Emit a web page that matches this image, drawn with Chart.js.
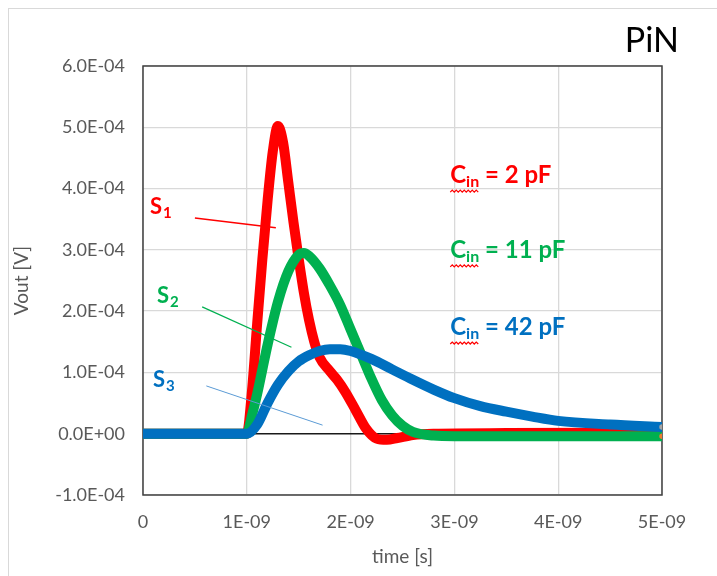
<!DOCTYPE html>
<html>
<head>
<meta charset="utf-8">
<script src="https://cdn.jsdelivr.net/npm/chart.js@4.4.1/dist/chart.umd.min.js"></script>
<style>
  html, body { margin: 0; padding: 0; background: #fff; }
  #wrap { position: relative; width: 717px; height: 576px; }
  #frame {
    position: absolute; left: 8px; top: 8px; right: 0; bottom: 0;
    border-top: 1px solid #d9d9d9; border-left: 1px solid #d9d9d9;
  }
  canvas { position: absolute; left: 0; top: 0; }
</style>
</head>
<body>
<div id="wrap">
  <div id="frame"></div>
  <canvas id="pinChart" width="717" height="576"></canvas>
</div>
<script>
// time in ns, Vout in units of 1e-4 V
const tS1 = [0, 0.9, 1.0, 1.05, 1.1, 1.15, 1.2, 1.25, 1.3, 1.35, 1.4, 1.45, 1.5, 1.55, 1.6, 1.65, 1.7, 1.8, 1.87, 1.95, 2.05, 2.15, 2.25, 2.35, 2.45, 2.6, 2.8, 3.5, 5.0];
const vS1 = [0, 0, 0, 0.7, 1.8, 2.85, 3.8, 4.6, 5.02, 4.75, 4.1, 3.45, 2.85, 2.3, 1.85, 1.5, 1.25, 1.02, 0.88, 0.68, 0.38, 0.08, -0.08, -0.1, -0.07, -0.02, 0, 0.01, 0.02];

const tS2 = [0, 0.9, 1.0, 1.05, 1.1, 1.15, 1.2, 1.3, 1.4, 1.5, 1.55, 1.6, 1.7, 1.8, 1.9, 2.0, 2.1, 2.2, 2.3, 2.4, 2.5, 2.6, 2.8, 3.0, 4.0, 5.0];
const vS2 = [0, 0, 0, 0.3, 0.65, 1.05, 1.45, 2.15, 2.65, 2.92, 2.95, 2.9, 2.7, 2.42, 2.1, 1.7, 1.3, 0.9, 0.55, 0.3, 0.13, 0.03, -0.03, -0.04, -0.04, -0.04];

const tS3 = [0, 0.9, 1.0, 1.1, 1.2, 1.3, 1.4, 1.5, 1.6, 1.7, 1.8, 1.9, 2.0, 2.2, 2.4, 2.6, 2.8, 3.0, 3.25, 3.5, 3.75, 4.0, 4.5, 5.0];
const vS3 = [0, 0, 0, 0.15, 0.5, 0.8, 1.02, 1.18, 1.28, 1.35, 1.38, 1.38, 1.35, 1.22, 1.05, 0.88, 0.72, 0.58, 0.45, 0.36, 0.28, 0.21, 0.15, 0.11];

const xTicks = [0, 1, 2, 3, 4, 5];
const yTicks = [-1, 0, 1, 2, 3, 4, 5, 6];

const RED = '#ff0000';
const GREEN = '#00b050';
const BLUE = '#0070c0';
const FONT = 'Lato, "Open Sans", sans-serif';

const toPoints = (ts, vs) => ts.map((t, i) => ({ x: t, y: vs[i] }));

function yLabel(v) {
    if (v === 0) return '0.0E+00';
    return (v < 0 ? '-' : '') + Math.abs(v).toFixed(1) + 'E-04';
}

function xLabel(v) {
    return v === 0 ? '0' : v + 'E-09';
}

// only the last sample of a series gets a small end marker
const endMarker = ctx => (ctx.dataIndex === ctx.dataset.data.length - 1 ? 3.5 : 0);

// higher order is drawn first, so S3 ends up on top
function series(label, ts, vs, color, endColor, order) {
    return {
        label: label,
        data: toPoints(ts, vs),
        order: order,
        borderColor: color,
        borderWidth: 10,
        cubicInterpolationMode: 'monotone',
        pointRadius: endMarker,
        pointBackgroundColor: endColor,
        pointBorderColor: color,
        pointBorderWidth: 1.5,
        borderCapStyle: 'round',
        borderJoinStyle: 'round'
    };
}

// text labels and leader lines, placed in data units
const seriesTags = [
    { name: 'S', sub: '1', color: RED, t: 0.067, v: 3.58, line: [0.50, 3.52, 1.28, 3.36], lw: 1.5 },
    { name: 'S', sub: '2', color: GREEN, t: 0.135, v: 2.13, line: [0.57, 2.07, 1.43, 1.41], lw: 1.2 },
    { name: 'S', sub: '3', color: BLUE, t: 0.096, v: 0.76, line: [0.61, 0.78, 1.73, 0.14], lw: 1, lineColor: '#5b9bd5' }
];
const capLabels = [
    { text: ' = 2 pF', color: RED, t: 2.96, v: 4.09 },
    { text: ' = 11 pF', color: GREEN, t: 2.96, v: 2.87 },
    { text: ' = 42 pF', color: BLUE, t: 2.96, v: 1.61 }
];

const plotFrame = {
    id: 'plotFrame',
    beforeDatasetsDraw(chart) {
        const { ctx, chartArea: a } = chart;
        ctx.save();
        ctx.strokeStyle = '#404040';
        ctx.lineWidth = 1.5;
        ctx.strokeRect(a.left, a.top, a.right - a.left, a.bottom - a.top);
        ctx.restore();
    }
};

// spell-check style squiggle
function wavy(ctx, x0, x1, y) {
    ctx.beginPath();
    ctx.moveTo(x0, y);
    let up = true;
    for (let x = x0 + 2; x <= x1; x += 2) {
        ctx.lineTo(x, up ? y - 2 : y);
        up = !up;
    }
    ctx.stroke();
}

const annotations = {
    id: 'annotations',
    afterDatasetsDraw(chart) {
        const { ctx } = chart;
        const xs = chart.scales.x, ys = chart.scales.y;
        ctx.save();
        ctx.textBaseline = 'alphabetic';
        ctx.textAlign = 'left';

        seriesTags.forEach(tag => {
            const [t0, v0, t1, v1] = tag.line;
            ctx.strokeStyle = tag.lineColor || tag.color;
            ctx.lineWidth = tag.lw;
            ctx.beginPath();
            ctx.moveTo(xs.getPixelForValue(t0), ys.getPixelForValue(v0));
            ctx.lineTo(xs.getPixelForValue(t1), ys.getPixelForValue(v1));
            ctx.stroke();

            const x = xs.getPixelForValue(tag.t), y = ys.getPixelForValue(tag.v);
            ctx.fillStyle = tag.color;
            ctx.font = 'bold 22px ' + FONT;
            ctx.fillText(tag.name, x, y);
            const w = ctx.measureText(tag.name).width;
            ctx.font = 'bold 15px ' + FONT;
            ctx.fillText(tag.sub, x + w + 1, y + 4);
        });

        capLabels.forEach(lab => {
            const x = xs.getPixelForValue(lab.t), y = ys.getPixelForValue(lab.v);
            ctx.fillStyle = lab.color;
            ctx.font = 'bold 24px ' + FONT;
            ctx.fillText('C', x, y);
            let cx = x + ctx.measureText('C').width;
            ctx.font = 'bold 16px ' + FONT;
            ctx.fillText('in', cx, y + 4);
            const subW = ctx.measureText('in').width;
            ctx.strokeStyle = RED;
            ctx.lineWidth = 1.2;
            wavy(ctx, x, cx + subW, y + 9);
            cx += subW;
            ctx.font = 'bold 24px ' + FONT;
            ctx.fillText(lab.text, cx, y);
        });

        ctx.fillStyle = '#000';
        ctx.font = '34px ' + FONT;
        ctx.textAlign = 'right';
        ctx.fillText('PiN', 679, 52);
        ctx.restore();
    }
};

new Chart(document.getElementById('pinChart'), {
    type: 'line',
    data: {
        datasets: [
            series('S1', tS1, vS1, RED, RED, 3),
            series('S2', tS2, vS2, GREEN, '#ed7d31', 2),
            series('S3', tS3, vS3, BLUE, '#a5a5a5', 1)
        ]
    },
    options: {
        responsive: false,
        animation: false,
        layout: { padding: { top: 66, right: 55, left: 0, bottom: 0 } },
        plugins: { legend: { display: false }, tooltip: { enabled: false } },
        scales: {
            x: {
                type: 'linear',
                min: 0,
                max: 5,
                afterFit: s => { s.height = 81; },
                afterBuildTicks: s => { s.ticks = xTicks.map(v => ({ value: v })); },
                grid: { color: '#d9d9d9', lineWidth: 1.3, drawTicks: false },
                border: { display: false },
                ticks: {
                    padding: 16,
                    color: '#595959',
                    font: { family: FONT, size: 18 },
                    callback: xLabel
                },
                title: {
                    display: true,
                    text: 'time [s]',
                    color: '#595959',
                    font: { family: FONT, size: 19 },
                    padding: { top: 0, bottom: 8 }
                }
            },
            y: {
                min: -1,
                max: 6,
                afterFit: s => { s.width = 143; },
                afterBuildTicks: s => { s.ticks = yTicks.map(v => ({ value: v })); },
                grid: {
                    color: c => (c.tick && c.tick.value === 0 ? '#1a1a1a' : '#d9d9d9'),
                    lineWidth: c => (c.tick && c.tick.value === 0 ? 1.5 : 1.3),
                    drawTicks: false
                },
                border: { display: false },
                ticks: {
                    padding: 18,
                    color: '#595959',
                    font: { family: FONT, size: 18 },
                    callback: yLabel
                },
                title: {
                    display: true,
                    text: 'Vout [V]',
                    color: '#595959',
                    font: { family: FONT, size: 19 },
                    padding: { top: 10, bottom: 0 }
                }
            }
        }
    },
    plugins: [plotFrame, annotations]
});
</script>
</body>
</html>
